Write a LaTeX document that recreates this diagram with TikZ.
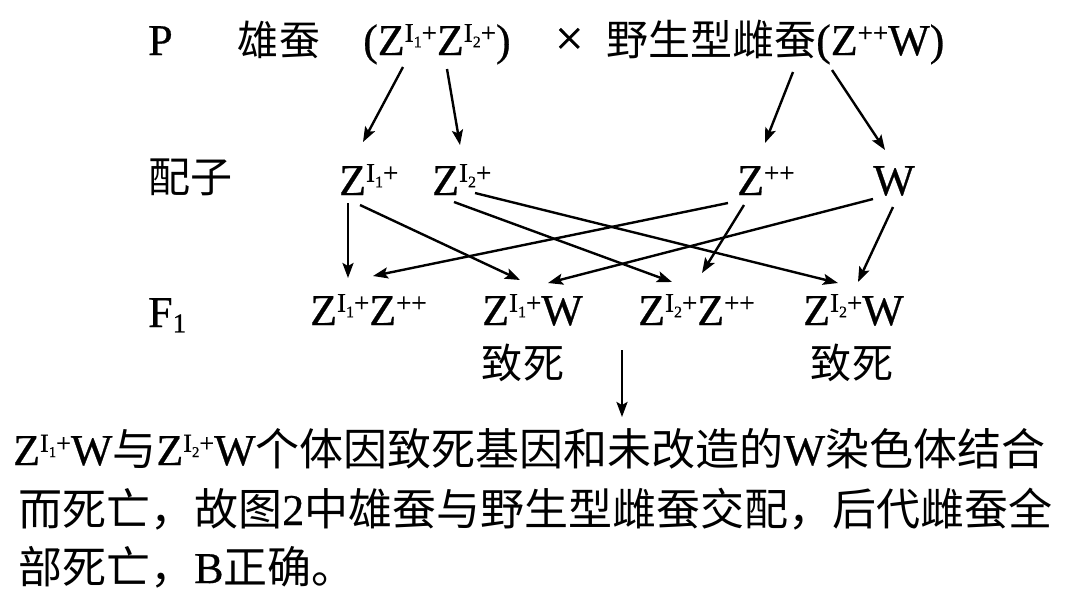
\documentclass[tikz,border=0pt]{standalone}
\usepackage{fontspec}
\setmainfont{Liberation Serif}[FakeBold=0.6]
\newfontfamily\cjk{Noto Sans CJK SC}
\usetikzlibrary{arrows.meta,calc}
\def\supsz{27}\def\subsz{16}
\newcommand\supI[1]{\raisebox{0.3em}{\fontsize{\supsz}{\supsz}\selectfont I\raisebox{-0.2em}{\fontsize{\subsz}{\subsz}\selectfont #1}+}}
\newcommand\suppp{\raisebox{0.3em}{\fontsize{\supsz}{\supsz}\selectfont ++}}
\newcommand\CJ[2]{{\cjk\fontsize{#1}{#1}\selectfont #2}}
\begin{document}
\begin{tikzpicture}[x=1pt,y=-1pt,
  lab/.style={anchor=base west,inner sep=0pt,font=\fontsize{44}{44}\selectfont},
  txt/.style={anchor=base west,inner sep=0pt,font=\fontsize{44}{44}\selectfont},
  arr/.style={line width=2.4pt,-{Stealth[length=15pt,width=11pt,inset=3pt]}}]
\useasboundingbox[fill=white] (0,0) rectangle (1080,606);
% parents row
\node[lab] (p)  at (148,55) {P};
\node[lab] (male) at (237,55) {\CJ{41}{雄\hspace{1pt}蚕}};
\node[lab] (pm) at (363,55) {(Z\supI{1}Z\supI{2})};
\node[lab] (x)  at (555,55) {\fontsize{50}{50}\selectfont ×};
\node[lab] (pf) at (606,55) {\CJ{42}{野生型雌蚕}(Z\suppp W)};
% gametes
\node[lab] (gl) at (148,192) {\CJ{42}{配子}};
\node[lab] (g1) at (339,195) {Z\supI{1}};
\node[lab] (g2) at (432,195) {Z\supI{2}};
\node[lab] (g3) at (737,195) {Z\suppp};
\node[lab] (g4) at (873,195) {W};
% F1
\node[lab] (fl) at (148,327) {F\raisebox{-0.12em}{\fontsize{27}{27}\selectfont 1}};
\node[lab] (f1) at (310,325) {Z\supI{1}Z\suppp};
\node[lab] (f2) at (482,325) {Z\supI{1}W};
\node[lab] (f3) at (638,325) {Z\supI{2}Z\suppp};
\node[lab] (f4) at (803,325) {Z\supI{2}W};
\node[lab] (d1) at (481,378) {\CJ{41}{致\hspace{1pt}死}};
\node[lab] (d2) at (810,378) {\CJ{41}{致\hspace{1pt}死}};
% explanation
\def\supsz{26}\def\subsz{15}
\node[txt] (t1) at (13,465) {Z\supI{1}W\CJ{44}{与}Z\supI{2}W\CJ{44}{个体因致死基因和未改造的}W\CJ{44}{染色体结合}};
\node[txt] (t2) at (18,525) {\CJ{44}{而死亡，故图}2\CJ{44}{中雄蚕与野生型雌蚕交配，后代雌蚕全}};
\node[txt] (t3) at (18,583) {\CJ{44}{部死亡，}B\CJ{44}{正确。}};
% arrows parents -> gametes
\draw[arr] ($(pm.base west)+(40,12)$) -- ($(g1.base west)+(24,-53)$);
\draw[arr] ($(pm.base west)+(84,14)$) -- ($(g2.base west)+(28,-50)$);
\draw[arr] ($(pf.base west)+(187,17)$) -- ($(g3.base west)+(28,-52)$);
\draw[arr] ($(pf.base west)+(226,15)$) -- ($(g4.base west)+(12,-45)$);
% gametes -> F1
\draw[arr] ($(g1.base west)+(9,8)$) -- ($(f1.base west)+(38,-47)$);
\draw[arr] ($(g1.base west)+(21,10)$) -- ($(f2.base west)+(38,-45)$);
\draw[arr] ($(g2.base west)+(22,7)$) -- ($(f3.base west)+(34,-43)$);
\draw[arr] ($(g2.base west)+(43,-2)$) -- ($(f4.base west)+(35,-42)$);
\draw[arr] ($(g3.base west)+(-9,8)$) -- ($(f1.base west)+(63,-49)$);
\draw[arr] ($(g3.base west)+(7,10)$) -- ($(f3.base west)+(64,-52)$);
\draw[arr] ($(g4.base west)+(0,4)$) -- ($(f2.base west)+(66,-42)$);
\draw[arr] ($(g4.base west)+(20,12)$) -- ($(f4.base west)+(55,-43)$);
% down arrow
\draw[arr] ($(f3.base west)+(-16,25)$) -- ($(t1.base west)+(609,-48)$);
\end{tikzpicture}
\end{document}
